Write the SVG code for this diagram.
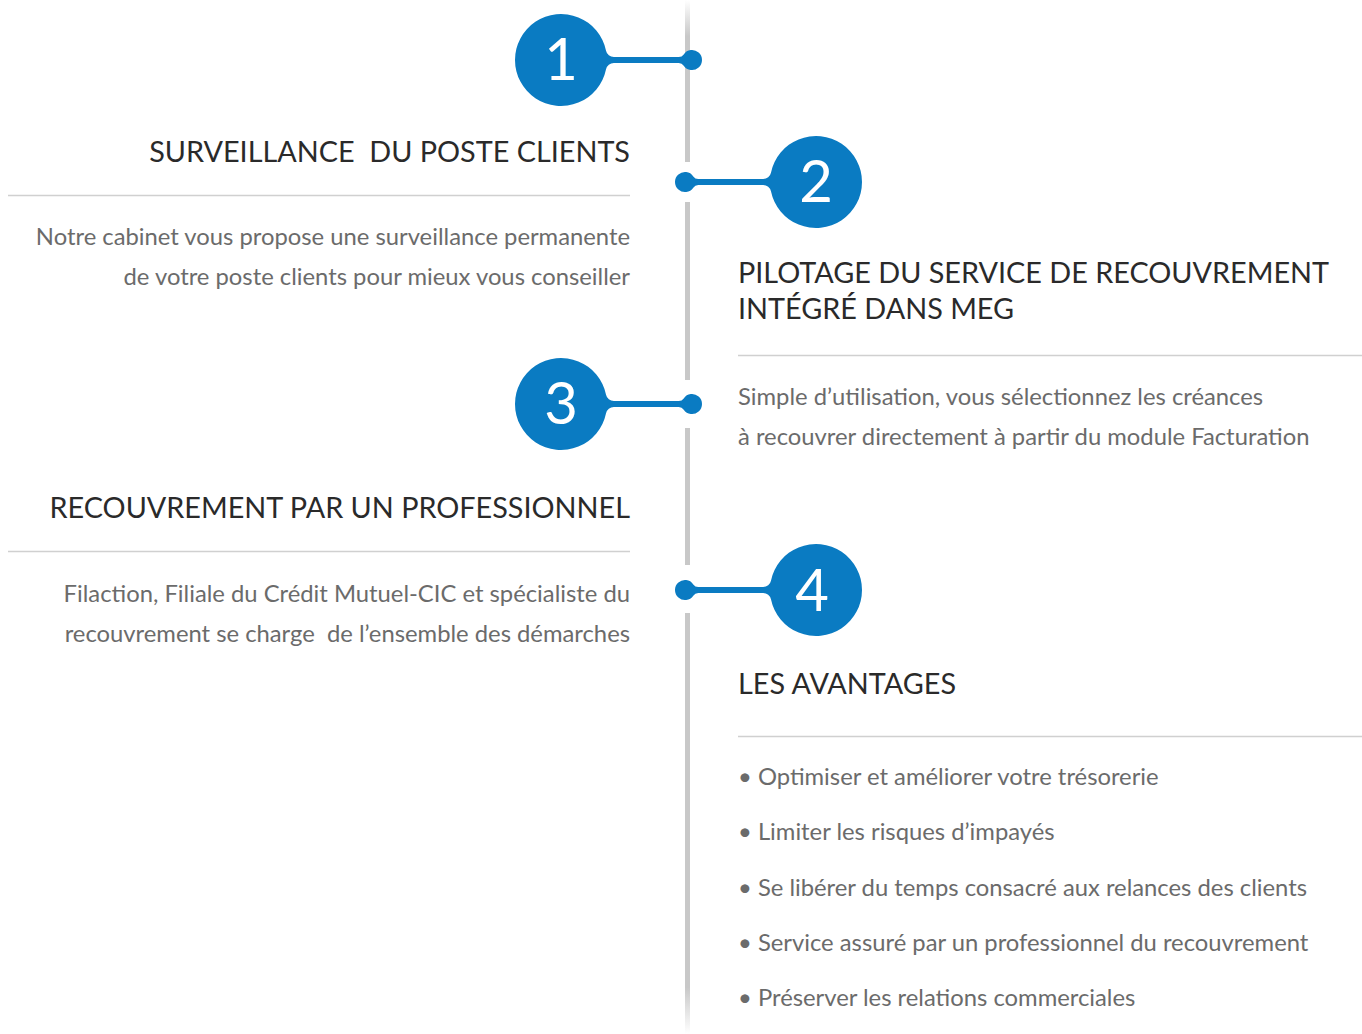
<svg xmlns="http://www.w3.org/2000/svg" width="1362" height="1034" viewBox="0 0 1362 1034">
<style>
.head{font-family:Lato,"Liberation Sans",sans-serif;font-size:28.8px;fill:#2a2a2a}
.body{font-family:Lato,"Liberation Sans",sans-serif;font-size:23.8px;fill:#6b6b6b}
.num{font-family:Lato,"Liberation Sans",sans-serif;font-weight:400;font-size:58px;fill:#fff;text-anchor:middle}
.rule{stroke:#d0d0d0;stroke-width:1.5}
.badge{fill:#0a7bc2}
.r{text-anchor:end}
</style>
<defs>
<linearGradient id="vg" gradientUnits="userSpaceOnUse" x1="0" y1="0" x2="0" y2="1034">
<stop offset="0" stop-color="#c8c8c8" stop-opacity="0"/>
<stop offset="0.035" stop-color="#c8c8c8" stop-opacity="1"/>
<stop offset="0.955" stop-color="#c8c8c8" stop-opacity="1"/>
<stop offset="1" stop-color="#c8c8c8" stop-opacity="0"/>
</linearGradient>
<path id="pin" d="M45.04,-9.37 A8,8 0 0 0 52.87,-3 L117.77,-3 A6,6 0 0 0 122.73,-5.625 A10,10 0 1 1 122.73,5.625 A6,6 0 0 0 117.77,3 L52.87,3 A8,8 0 0 0 45.04,9.37 A46,46 0 1 1 45.04,-9.37 Z"/>
</defs>
<rect width="1362" height="1034" fill="#fff"/>
<g id="connectors" fill="url(#vg)">
<rect x="685" y="0" width="5" height="162"/>
<rect x="685" y="202" width="5" height="178"/>
<rect x="685" y="428" width="5" height="137"/>
<rect x="685" y="613" width="5" height="421"/>
</g>
<g id="step1">
<use href="#pin" class="badge" transform="translate(561,60)"/>
<text class="num" x="561" y="80">1</text>
<text class="head r" x="630" y="162" xml:space="preserve">SURVEILLANCE  DU POSTE CLIENTS</text>
<line class="rule" x1="8" y1="195.5" x2="630" y2="195.5"/>
<text class="body r" x="630" y="245">Notre cabinet vous propose une surveillance permanente</text>
<text class="body r" x="630" y="285">de votre poste clients pour mieux vous conseiller</text>
</g>
<g id="step2">
<use href="#pin" class="badge" transform="translate(816,182) scale(-1,1)"/>
<text class="num" x="816" y="202">2</text>
<text class="head" x="738" y="283">PILOTAGE DU SERVICE DE RECOUVREMENT</text>
<text class="head" x="738" y="319">INTÉGRÉ DANS MEG</text>
<line class="rule" x1="738" y1="355.5" x2="1362" y2="355.5"/>
<text class="body" x="738" y="405">Simple d’utilisation, vous sélectionnez les créances</text>
<text class="body" x="738" y="445">à recouvrer directement à partir du module Facturation</text>
</g>
<g id="step3">
<use href="#pin" class="badge" transform="translate(561,404)"/>
<text class="num" x="561" y="424">3</text>
<text class="head r" x="630" y="518">RECOUVREMENT PAR UN PROFESSIONNEL</text>
<line class="rule" x1="8" y1="551.5" x2="630" y2="551.5"/>
<text class="body r" x="630" y="602">Filaction, Filiale du Crédit Mutuel-CIC et spécialiste du</text>
<text class="body r" x="630" y="642" xml:space="preserve">recouvrement se charge  de l’ensemble des démarches</text>
</g>
<g id="step4">
<use href="#pin" class="badge" transform="translate(816,590) scale(-1,1)"/>
<text class="num" x="812" y="611">4</text>
<text class="head" x="738" y="694">LES AVANTAGES</text>
<line class="rule" x1="738" y1="736.5" x2="1362" y2="736.5"/>
<text class="body" x="738" y="785">• Optimiser et améliorer votre trésorerie</text>
<text class="body" x="738" y="840">• Limiter les risques d’impayés</text>
<text class="body" x="738" y="896">• Se libérer du temps consacré aux relances des clients</text>
<text class="body" x="738" y="951">• Service assuré par un professionnel du recouvrement</text>
<text class="body" x="738" y="1006">• Préserver les relations commerciales</text>
</g>
</svg>
